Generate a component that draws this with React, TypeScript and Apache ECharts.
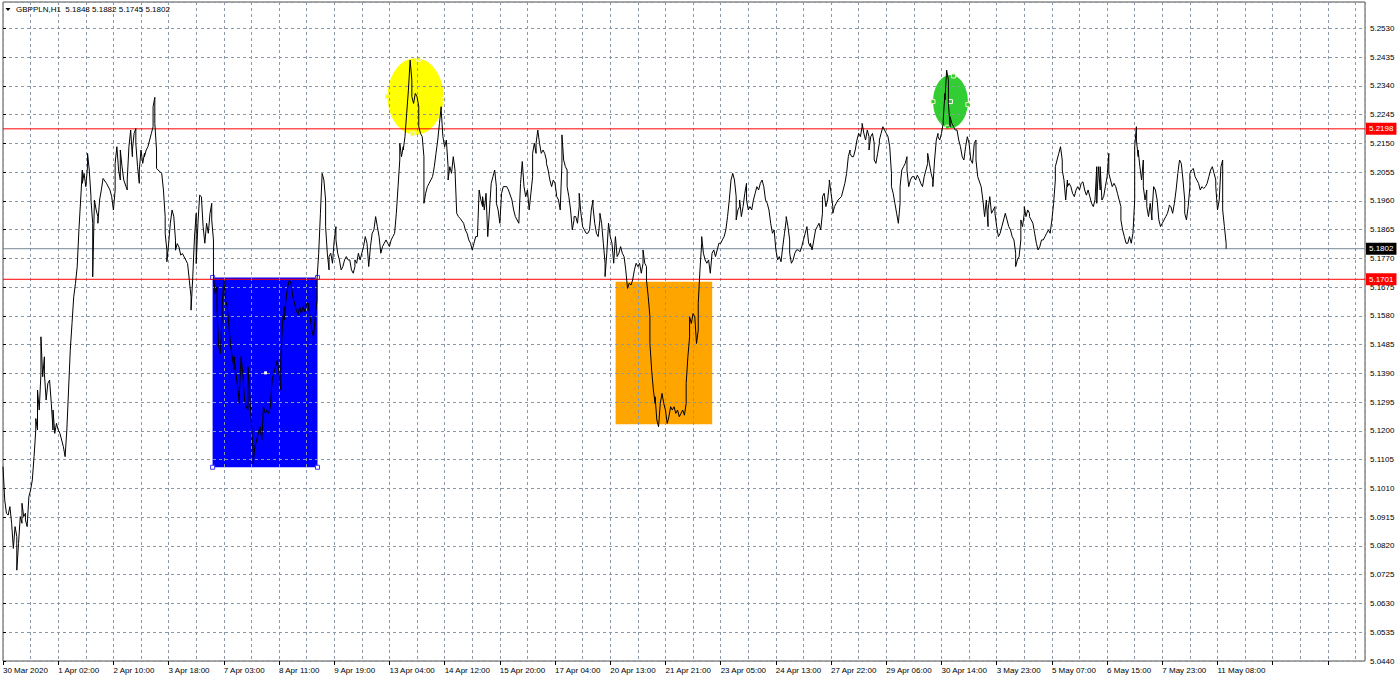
import { useEffect, useRef } from "react";
import * as echarts from "echarts";

const FONT = '"Liberation Sans", Arial, sans-serif';

// ---- header ----
const symbolName = "GBPPLN,H1";
const ohlc = [5.1848, 5.1882, 5.1745, 5.1802];

// ---- axes ----
const timeLabels = [
  "30 Mar 2020", "1 Apr 02:00", "2 Apr 10:00", "3 Apr 18:00", "7 Apr 03:00", "8 Apr 11:00",
  "9 Apr 19:00", "13 Apr 04:00", "14 Apr 12:00", "15 Apr 20:00", "17 Apr 04:00", "20 Apr 13:00",
  "21 Apr 21:00", "23 Apr 05:00", "24 Apr 13:00", "27 Apr 22:00", "29 Apr 06:00", "30 Apr 14:00",
  "3 May 23:00", "5 May 07:00", "6 May 15:00", "7 May 23:00", "11 May 08:00",
];
const barsPerLabel = 32;
const barsPerGrid = 16;
const visibleBars = 789.5;
const priceTickStart = 5.044;
const priceTickStep = 0.0095;
const priceTop = 5.2617;

// ---- levels ----
const levelLines = [5.2198, 5.1701];
const bidPrice = 5.1802;

// ---- H1 closes: [bar index, close] ----
const seg1 = [
  [0, 5.1082], [1, 5.0972], [2, 5.0928], [3, 5.0922], [4, 5.095], [5, 5.0895], [6, 5.0812], [7, 5.0884], [8, 5.0851], [8, 5.074],
  [9, 5.0828], [10, 5.0917], [11, 5.0895], [11, 5.0961], [12, 5.0917], [13, 5.0928], [13, 5.0906], [14, 5.0884], [15, 5.0983], [16, 5.1005],
  [17, 5.1038], [18, 5.1115], [19, 5.1203], [19, 5.1241], [20, 5.1203], [20, 5.1335], [21, 5.1269], [22, 5.139], [22, 5.1511], [23, 5.1379],
  [24, 5.1445], [24, 5.139], [25, 5.1302], [26, 5.1357], [27, 5.1368], [28, 5.1291], [29, 5.1203], [29, 5.1269], [30, 5.1192], [31, 5.1225],
  [32, 5.1203], [33, 5.1192], [34, 5.117], [35, 5.1148], [36, 5.1115], [37, 5.1203], [38, 5.1335], [39, 5.1467], [40, 5.1555], [41, 5.1643],
  [42, 5.1687], [43, 5.1742], [44, 5.1864], [45, 5.1963], [46, 5.2062], [46, 5.2018], [47, 5.2051], [48, 5.2007], [49, 5.2073], [49, 5.2117],
  [50, 5.2062], [51, 5.1974], [51, 5.1963], [52, 5.1886], [52, 5.1709], [53, 5.1963], [54, 5.193], [55, 5.1908], [55, 5.1886], [56, 5.1963],
  [57, 5.1996], [58, 5.2034], [60, 5.2018], [62, 5.1996], [63, 5.1974], [64, 5.193], [65, 5.1996], [65, 5.2084], [66, 5.2139], [67, 5.2062],
  [68, 5.2029], [68, 5.2128], [69, 5.2073], [70, 5.2029], [72, 5.1996], [72, 5.2029], [73, 5.2139], [74, 5.2194], [75, 5.2106], [75, 5.2128],
  [76, 5.2183], [77, 5.2199], [77, 5.215], [78, 5.2073], [79, 5.2018], [79, 5.2062], [80, 5.2128], [81, 5.2084], [82, 5.2117], [82, 5.2106],
  [83, 5.2128], [84, 5.2139], [85, 5.2161], [86, 5.2183], [87, 5.2205], [87, 5.2271], [88, 5.2302], [88, 5.2216], [89, 5.2128], [89, 5.2067],
  [91, 5.2056], [92, 5.2051], [93, 5.1996], [94, 5.1908], [94, 5.1853], [95, 5.1797], [95, 5.1759], [96, 5.1819], [97, 5.1886], [98, 5.193],
  [99, 5.1908], [100, 5.183], [100, 5.1797], [101, 5.1819], [102, 5.1808], [103, 5.1781], [104, 5.1786], [105, 5.1775], [106, 5.1764], [107, 5.1753],
  [108, 5.1698], [109, 5.1643], [109, 5.1599], [110, 5.1709], [111, 5.1841], [112, 5.1919], [112, 5.1753], [113, 5.1886], [114, 5.1979], [115, 5.1974],
];
const seg2 = [
  [116, 5.1875], [117, 5.182], [118, 5.1886], [119, 5.1853], [120, 5.1919], [121, 5.1952], [121, 5.1897], [122, 5.1831], [122, 5.171], [123, 5.1654],
  [124, 5.1676], [124, 5.161], [125, 5.1478], [126, 5.1456], [127, 5.1577], [127, 5.161], [128, 5.1699], [129, 5.1633], [130, 5.161], [131, 5.1544],
  [132, 5.1478], [134, 5.1401], [134, 5.1445], [135, 5.139], [136, 5.1346], [137, 5.1291], [137, 5.1324], [138, 5.1445], [139, 5.139], [140, 5.1302],
  [141, 5.128], [142, 5.1269], [142, 5.1412], [143, 5.1324], [144, 5.1225], [145, 5.1126], [145, 5.1093], [146, 5.1148], [147, 5.117], [148, 5.1192],
  [149, 5.1214], [150, 5.117], [151, 5.128], [152, 5.1258], [153, 5.1269], [154, 5.1258], [155, 5.128], [156, 5.1368], [157, 5.139], [158, 5.1412],
  [159, 5.1434], [160, 5.139], [161, 5.1335], [161, 5.1434], [162, 5.1555], [163, 5.161], [163, 5.1566], [164, 5.1632], [165, 5.1676], [166, 5.1698],
  [167, 5.1687], [168, 5.1643], [170, 5.1599], [171, 5.1583], [172, 5.161], [173, 5.1588], [174, 5.161], [175, 5.1594], [176, 5.1621], [177, 5.1621],
  [177, 5.161], [178, 5.1577], [179, 5.1533], [180, 5.1511], [181, 5.1577], [182, 5.1632], [182, 5.1699], [183, 5.1787], [184, 5.1919], [185, 5.2051],
  [186, 5.2029], [187, 5.1963], [187, 5.1875], [188, 5.1787], [189, 5.1732], [189, 5.1776], [190, 5.1787], [191, 5.1754], [192, 5.1831], [193, 5.1875],
  [193, 5.1831], [194, 5.1787], [195, 5.1765], [196, 5.1732], [197, 5.1743], [198, 5.1765], [199, 5.1776], [200, 5.1765], [201, 5.1765], [202, 5.1732],
  [203, 5.1721], [204, 5.1743], [204, 5.1765], [205, 5.1754], [206, 5.1787], [207, 5.1765], [208, 5.1787], [209, 5.1809], [210, 5.1842], [211, 5.182],
  [212, 5.1743], [213, 5.1809], [214, 5.1853], [215, 5.1864], [216, 5.1908], [217, 5.1875], [218, 5.1842], [219, 5.1787], [220, 5.1809], [221, 5.182],
  [222, 5.1831], [223, 5.182], [224, 5.1809], [225, 5.1831], [226, 5.1842], [227, 5.1853], [228, 5.1919], [229, 5.2007], [230, 5.2095], [230, 5.215],
  [231, 5.2106], [232, 5.2139], [232, 5.2128], [233, 5.2172], [234, 5.2249], [235, 5.2326], [236, 5.2425], [237, 5.2359], [237, 5.2304], [238, 5.2282],
  [239, 5.2315], [240, 5.2304], [241, 5.2271], [241, 5.2205], [242, 5.2183], [243, 5.2172], [244, 5.2106], [244, 5.1952], [245, 5.1985], [246, 5.2007],
  [247, 5.2018], [248, 5.2029], [249, 5.204], [250, 5.2073], [251, 5.2117], [252, 5.2161], [253, 5.2216], [254, 5.2271], [254, 5.226], [255, 5.2172],
  [256, 5.2139], [257, 5.2161], [258, 5.2073], [258, 5.2029], [259, 5.2073], [260, 5.2051], [261, 5.2106], [262, 5.2062], [263, 5.1919], [264, 5.1908],
];
const seg3 = [
  [265, 5.1902], [267, 5.1886], [268, 5.1864], [269, 5.1853], [270, 5.1831], [271, 5.182], [272, 5.1798], [273, 5.182], [274, 5.1842], [275, 5.1842],
  [276, 5.1996], [277, 5.1963], [278, 5.1941], [278, 5.1974], [279, 5.193], [280, 5.1985], [281, 5.1842], [282, 5.193], [283, 5.2018], [284, 5.204],
  [285, 5.2062], [286, 5.2007], [286, 5.1952], [287, 5.193], [288, 5.1886], [289, 5.1985], [290, 5.2007], [292, 5.2007], [293, 5.1996], [295, 5.1963],
  [296, 5.193], [297, 5.1908], [299, 5.1886], [300, 5.2018], [301, 5.209], [302, 5.2007], [303, 5.1974], [304, 5.1996], [305, 5.193], [306, 5.1985],
  [307, 5.204], [307, 5.2117], [308, 5.215], [309, 5.2117], [309, 5.215], [310, 5.2194], [311, 5.215], [312, 5.2117], [313, 5.2128], [314, 5.2117],
  [315, 5.2095], [315, 5.2084], [316, 5.2062], [317, 5.2029], [318, 5.2007], [319, 5.2029], [320, 5.2018], [321, 5.1974], [322, 5.1963], [323, 5.193],
  [324, 5.2084], [324, 5.2178], [325, 5.2095], [326, 5.2073], [327, 5.2062], [327, 5.2007], [328, 5.1974], [329, 5.193], [330, 5.1864], [331, 5.1897],
  [331, 5.1908], [332, 5.1908], [333, 5.1886], [334, 5.1941], [334, 5.1985], [335, 5.1919], [336, 5.1875], [337, 5.1864], [338, 5.1853], [339, 5.1853],
  [340, 5.1864], [341, 5.193], [342, 5.1963], [342, 5.1941], [343, 5.1886], [344, 5.1853], [345, 5.1842], [346, 5.1897], [346, 5.1919], [347, 5.1886],
  [348, 5.182], [349, 5.1754], [349, 5.171], [350, 5.1787], [351, 5.1886], [352, 5.1842], [353, 5.182], [354, 5.1754], [355, 5.1842], [356, 5.1776],
  [357, 5.1787], [358, 5.1809], [359, 5.1787], [360, 5.1776], [361, 5.1732], [362, 5.1671], [363, 5.1688], [364, 5.1682], [365, 5.1699], [366, 5.1732],
  [367, 5.1754], [368, 5.1743], [369, 5.1754], [370, 5.1721], [371, 5.1754], [371, 5.1798], [372, 5.1754], [373, 5.1743], [373, 5.1699], [374, 5.1644],
  [375, 5.1577], [375, 5.1489], [376, 5.1401], [377, 5.1335], [378, 5.1291], [378, 5.1313], [379, 5.1236], [380, 5.1214], [381, 5.1291], [382, 5.1324],
  [383, 5.1291], [384, 5.1269], [385, 5.1225], [386, 5.1247], [387, 5.128], [388, 5.1269], [389, 5.128], [390, 5.1258], [391, 5.1269], [392, 5.1247],
  [393, 5.1258], [394, 5.1269], [395, 5.1252], [396, 5.1291], [396, 5.1357], [397, 5.1445], [398, 5.1511], [398, 5.1577], [399, 5.1555], [400, 5.1588],
  [401, 5.1577], [402, 5.1489], [403, 5.1533], [403, 5.1621], [404, 5.1732], [405, 5.182], [405, 5.1842], [406, 5.1787], [407, 5.1765], [408, 5.1754],
  [409, 5.1765], [410, 5.1721], [411, 5.1787], [412, 5.1798], [413, 5.1776], [414, 5.1798], [415, 5.182], [416, 5.182],
];
const seg4 = [
  [417, 5.1831], [418, 5.1842], [419, 5.1864], [420, 5.1908], [421, 5.1963], [422, 5.2029], [423, 5.2051], [424, 5.2029], [425, 5.1974], [425, 5.1897],
  [426, 5.193], [427, 5.1941], [427, 5.1963], [428, 5.1908], [429, 5.1941], [430, 5.1985], [431, 5.2018], [431, 5.1963], [432, 5.193], [433, 5.1941],
  [434, 5.193], [435, 5.1963], [436, 5.1985], [437, 5.2007], [438, 5.1996], [439, 5.2018], [440, 5.2029], [441, 5.2007], [442, 5.1963], [443, 5.1952],
  [444, 5.193], [445, 5.1886], [446, 5.1853], [447, 5.1864], [448, 5.1798], [449, 5.1765], [450, 5.1776], [451, 5.1759], [452, 5.1809], [453, 5.1853],
  [454, 5.1897], [454, 5.1908], [455, 5.1875], [456, 5.1831], [456, 5.1787], [457, 5.1754], [458, 5.1765], [459, 5.1787], [460, 5.1798], [461, 5.1798],
  [462, 5.1792], [463, 5.1809], [464, 5.1831], [465, 5.1853], [466, 5.1875], [467, 5.182], [468, 5.1809], [468, 5.182], [469, 5.1798], [470, 5.1831],
  [471, 5.1864], [472, 5.1875], [473, 5.1886], [474, 5.1864], [475, 5.1919], [475, 5.1974], [476, 5.1985], [477, 5.1941], [478, 5.1963], [479, 5.2018],
  [479, 5.2029], [480, 5.1985], [481, 5.1941], [481, 5.1919], [482, 5.1941], [483, 5.1952], [484, 5.1963], [486, 5.1974], [487, 5.1996], [488, 5.2018],
  [489, 5.2051], [490, 5.2106], [491, 5.2128], [491, 5.2117], [492, 5.2106], [493, 5.2106], [494, 5.2128], [495, 5.2161], [496, 5.2183], [497, 5.2172],
  [498, 5.2205], [498, 5.2216], [499, 5.2183], [500, 5.2161], [501, 5.2194], [502, 5.2172], [502, 5.2128], [503, 5.2172], [504, 5.2183], [505, 5.215],
  [505, 5.2095], [506, 5.2084], [507, 5.2117], [508, 5.215], [508, 5.2161], [509, 5.2183], [510, 5.2205], [511, 5.2194], [512, 5.2183], [513, 5.2172],
  [514, 5.2139], [515, 5.2051], [515, 5.2007], [516, 5.1985], [517, 5.1952], [518, 5.1919], [519, 5.1886], [520, 5.1952], [520, 5.2007], [521, 5.2062],
  [522, 5.2073], [523, 5.2084], [524, 5.2106], [524, 5.2062], [525, 5.2007], [526, 5.2029], [527, 5.204], [528, 5.204], [529, 5.2029], [530, 5.2045],
  [531, 5.2034], [532, 5.2018], [533, 5.2007], [534, 5.204], [535, 5.2062], [536, 5.2084], [536, 5.2117], [537, 5.2084], [538, 5.2051], [539, 5.2029],
  [539, 5.2007], [540, 5.2095], [541, 5.2161], [542, 5.2183], [542, 5.2172], [543, 5.2161], [544, 5.2183], [545, 5.2216], [545, 5.2227], [546, 5.2315],
  [546, 5.2293], [547, 5.2392], [548, 5.2359], [548, 5.2282], [549, 5.2205], [549, 5.2238], [550, 5.2216], [551, 5.2205], [552, 5.2194], [553, 5.2194],
  [554, 5.2161], [555, 5.2139], [556, 5.2106], [557, 5.2095], [558, 5.2139], [559, 5.2172], [560, 5.215], [561, 5.2095], [562, 5.2084], [563, 5.215],
  [564, 5.2161], [564, 5.2095], [565, 5.204],
];
const seg5 = [
  [567, 5.2007], [568, 5.1963], [569, 5.1908], [570, 5.1963], [571, 5.1875], [571, 5.193], [572, 5.1974], [573, 5.1919], [574, 5.193], [575, 5.1941],
  [575, 5.1919], [576, 5.1875], [577, 5.1842], [578, 5.1853], [579, 5.1875], [580, 5.1897], [581, 5.1919], [582, 5.1897], [583, 5.1875], [584, 5.1864],
  [585, 5.1842], [586, 5.1831], [587, 5.1787], [587, 5.1743], [588, 5.1765], [589, 5.1776], [590, 5.1831], [590, 5.1897], [591, 5.1875], [592, 5.1919],
  [592, 5.1941], [593, 5.1908], [594, 5.193], [595, 5.1919], [595, 5.1908], [596, 5.1897], [597, 5.1886], [598, 5.1853], [599, 5.182], [600, 5.1798],
  [601, 5.1809], [602, 5.1831], [603, 5.1831], [604, 5.1842], [605, 5.1853], [606, 5.1864], [607, 5.1853], [608, 5.1897], [609, 5.1952], [610, 5.2029],
  [610, 5.2073], [611, 5.2095], [612, 5.2117], [613, 5.2139], [614, 5.2095], [614, 5.2062], [615, 5.2029], [616, 5.1963], [617, 5.2029], [617, 5.2007],
  [618, 5.2018], [619, 5.2007], [620, 5.1985], [621, 5.1974], [622, 5.1996], [623, 5.2007], [624, 5.1996], [625, 5.2018], [626, 5.2023], [627, 5.1996],
  [628, 5.1979], [629, 5.1996], [630, 5.1974], [631, 5.1952], [632, 5.1941], [633, 5.1963], [634, 5.2073], [634, 5.1952], [635, 5.2073], [636, 5.1996],
  [636, 5.2073], [637, 5.1963], [638, 5.1974], [639, 5.2007], [640, 5.204], [641, 5.2117], [641, 5.2051], [642, 5.2029], [643, 5.2007], [644, 5.2018],
  [645, 5.2007], [646, 5.1985], [647, 5.1963], [648, 5.1941], [648, 5.1897], [649, 5.1864], [650, 5.1842], [651, 5.182], [652, 5.182], [653, 5.1842],
  [654, 5.182], [655, 5.1853], [656, 5.1963], [656, 5.2139], [657, 5.2205], [657, 5.2161], [658, 5.2106], [658, 5.2128], [659, 5.2073], [660, 5.2029],
  [661, 5.2095], [661, 5.2007], [662, 5.1963], [663, 5.1996], [663, 5.1941], [664, 5.1908], [665, 5.1952], [666, 5.1897], [666, 5.1919], [667, 5.2007],
  [668, 5.1996], [669, 5.1963], [670, 5.1897], [671, 5.1875], [672, 5.1886], [673, 5.1897], [674, 5.1908], [675, 5.1919], [676, 5.1941], [676, 5.1946],
  [677, 5.1941], [678, 5.1919], [679, 5.1952], [680, 5.1996], [681, 5.2051], [682, 5.2095], [683, 5.2084], [684, 5.2029], [685, 5.1963], [685, 5.1919],
  [686, 5.1897], [687, 5.1941], [688, 5.2007], [688, 5.2051], [689, 5.2062], [690, 5.2067], [691, 5.204], [692, 5.2029], [693, 5.2018], [694, 5.1996],
  [695, 5.2007], [696, 5.2001], [697, 5.2007], [698, 5.2018], [699, 5.204], [700, 5.2062], [701, 5.2073], [702, 5.2051], [703, 5.2029], [703, 5.2007],
  [704, 5.193], [705, 5.1963], [706, 5.2073], [707, 5.2095], [707, 5.193], [708, 5.1875], [709, 5.182], [709, 5.1802],
];

// ---- chart objects: [bar from, price top, bar to, price bottom] ----
const shapeKinds = ["rect", "rect", "ellipse", "ellipse"];
const shapeBoxes = [
  [121.5, 5.1707, 182.3, 5.108],
  [355.1, 5.1693, 411.1, 5.1222],
  [222.9, 5.2431, 255.3, 5.2178],
  [539.1, 5.2376, 559.3, 5.22],
];
const shapeColors = ["#0000ff", "#ffa500", "#ffff00", "#32cd32"];

const GRID_COLOR = "#8a98a8";

const hLineSeries = (name: string, value: number, color: string, labelBg: string, z: number) => ({
  type: "line",
  name,
  xAxisIndex: 0,
  yAxisIndex: 0,
  z,
  silent: true,
  clip: false,
  data: [[0, value], [visibleBars, value]],
  showSymbol: false,
  symbol: "none",
  color,
  lineStyle: { color, width: 1, type: "solid" },
  endLabel: {
    show: true,
    distance: 1,
    color: "#ffffff",
    backgroundColor: labelBg,
    fontSize: 8,
    fontFamily: FONT,
    padding: [2, 3, 1, 3],
    lineHeight: 9,
    formatter: () => value.toFixed(4),
  },
});

export default function App() {
  const ref = useRef<HTMLDivElement>(null);

  useEffect(() => {
    const chart = echarts.init(ref.current!, undefined, { renderer: "svg" });
    const lineData = [...seg1, ...seg2, ...seg3, ...seg4, ...seg5];

    const handle = (x: number, y: number, stroke: string, fill: string) => ({
      type: "rect",
      shape: { x: x - 2, y: y - 2, width: 4, height: 4 },
      style: { fill, stroke, lineWidth: 1 },
    });

    chart.setOption({
      animation: false,
      backgroundColor: "#ffffff",
      textStyle: { fontFamily: FONT },
      grid: {
        left: 2,
        top: 2,
        right: 35,
        bottom: 22,
        show: true,
        borderColor: "#505050",
        borderWidth: 1,
        backgroundColor: "transparent",
      },
      xAxis: [
        {
          type: "value",
          min: 0,
          max: visibleBars,
          interval: barsPerGrid,
          z: 1,
          axisLine: { show: false },
          axisTick: { show: false },
          axisLabel: { show: false },
          splitLine: { show: true, lineStyle: { color: GRID_COLOR, type: [3, 3], width: 1 } },
        },
        {
          type: "value",
          min: 0,
          max: visibleBars,
          interval: barsPerLabel,
          position: "bottom",
          z: 1,
          axisLine: { show: false },
          splitLine: { show: false },
          axisTick: { show: true, length: 4, lineStyle: { color: "#000" } },
          axisLabel: {
            show: true,
            align: "left",
            margin: 5,
            color: "#000",
            fontSize: 8,
            fontFamily: FONT,
            showMaxLabel: false,
            formatter: (v: number) => {
              if (v % barsPerLabel !== 0) return "";
              return timeLabels[v / barsPerLabel] ?? "";
            },
          },
        },
      ],
      yAxis: {
        type: "value",
        position: "right",
        min: priceTickStart,
        max: priceTop,
        interval: priceTickStep,
        z: 1,
        axisLine: { show: false },
        axisTick: { show: true, length: 3, lineStyle: { color: "#000" } },
        axisLabel: {
          show: true,
          margin: 5,
          color: "#000",
          fontSize: 8,
          fontFamily: FONT,
          showMaxLabel: false,
          formatter: (v: number) => v.toFixed(4),
        },
        splitLine: { show: true, lineStyle: { color: GRID_COLOR, type: [3, 3], width: 1 } },
      },
      graphic: [
        {
          type: "polygon",
          shape: { points: [[5.5, 8], [10.5, 8], [8, 11]] },
          style: { fill: "#000" },
          z: 100,
        },
        {
          type: "text",
          x: 16,
          y: 5,
          z: 100,
          style: {
            text: `${symbolName}  ${ohlc.map((v) => v.toFixed(4)).join(" ")}`,
            font: `8px ${FONT}`,
            fill: "#000",
          },
        },
      ],
      series: [
        {
          type: "custom",
          name: "objects",
          xAxisIndex: 0,
          yAxisIndex: 0,
          z: 0,
          silent: true,
          encode: { x: [0, 2], y: [1, 3] },
          data: shapeBoxes,
          renderItem: (params: any, api: any) => {
            const i = params.dataIndex;
            const p1 = api.coord([api.value(0), api.value(1)]);
            const p2 = api.coord([api.value(2), api.value(3)]);
            const x = Math.min(p1[0], p2[0]);
            const y = Math.min(p1[1], p2[1]);
            const w = Math.abs(p2[0] - p1[0]);
            const h = Math.abs(p2[1] - p1[1]);
            const color = shapeColors[i];
            const cx = x + w / 2;
            const cy = y + h / 2;
            const children: any[] = [];
            if (shapeKinds[i] === "rect") {
              children.push({ type: "rect", shape: { x, y, width: w, height: h }, style: { fill: color } });
              if (i === 0) {
                children.push(handle(x, y, "#3a3aff", "#ffffff"));
                children.push(handle(x + w, y, "#3a3aff", "#ffffff"));
                children.push(handle(x, y + h, "#3a3aff", "#ffffff"));
                children.push(handle(x + w, y + h, "#3a3aff", "#ffffff"));
                children.push({ type: "rect", shape: { x: cx - 1, y: cy - 1, width: 3, height: 3 }, style: { fill: "#ffffff" } });
              }
            } else {
              children.push({ type: "ellipse", shape: { cx, cy, rx: w / 2, ry: h / 2 }, style: { fill: color } });
              const hs = "#f4f4c8";
              children.push(handle(x, cy, hs, color));
              children.push(handle(x + w, cy + 3, hs, color));
              children.push(handle(cx + 3, y + 1, hs, color));
              children.push(handle(cx - 3, y + h - 1, hs, color));
              if (i === 3) children.push(handle(cx, cy, "#ffffff", color));
            }
            return { type: "group", children };
          },
        },
        hLineSeries("bid", bidPrice, "#778899", "#000000", 1.5),
        ...levelLines.map((v, k) => hLineSeries(`level${k}`, v, "#ff0000", "#ff0000", 1.6)),
        {
          type: "line",
          name: "GBPPLN",
          xAxisIndex: 0,
          yAxisIndex: 0,
          z: 2,
          data: lineData,
          showSymbol: false,
          symbol: "none",
          silent: true,
          color: "#000000",
          lineStyle: { color: "#000000", width: 1 },
        },
      ],
    });

    return () => chart.dispose();
  }, []);

  return (
    <div
      ref={ref}
      style={{ position: "fixed", left: 0, top: 0, width: 1400, height: 683, background: "#fff" }}
    />
  );
}
